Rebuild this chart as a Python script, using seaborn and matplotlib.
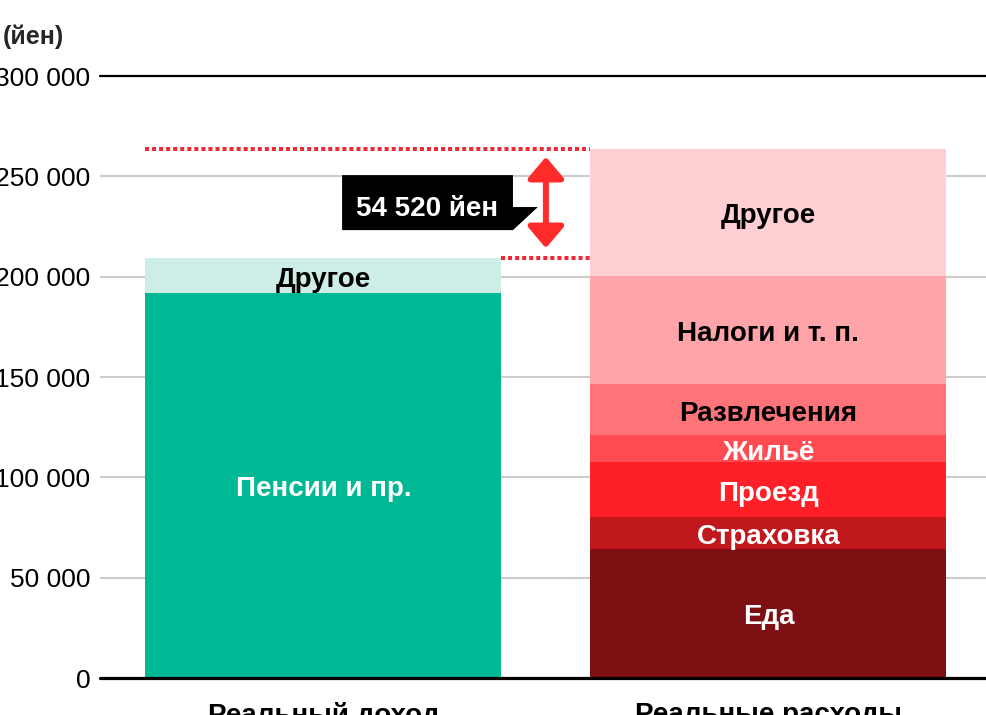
import matplotlib
matplotlib.use("Agg")
import matplotlib.pyplot as plt
from matplotlib.patches import Polygon
import pandas as pd
import seaborn as sns

bars = ["Реальный доход", "Реальные расходы"]

income_labels = ["Пенсии и пр.", "Другое"]
income_values = [191880, 17318]
income_colors = ["#00b894", "#cdeee6"]
income_text = ["white", "black"]

spend_labels = ["Еда", "Страховка", "Проезд", "Жильё", "Развлечения", "Налоги и т. п.", "Другое"]
spend_values = [64500, 15500, 27500, 13600, 25200, 54000, 63418]
spend_colors = ["#7e1013", "#c1181d", "#ff1f26", "#ff4b51", "#ff7479", "#ffa4a8", "#ffd0d3"]
spend_text = ["white", "white", "white", "white", "black", "black", "black"]

yticks = [0, 50000, 100000, 150000, 200000, 250000, 300000]

# build one table of stacked segments
rows = []
for bar, labels, values, colors, tcols in [
    (bars[0], income_labels, income_values, income_colors, income_text),
    (bars[1], spend_labels, spend_values, spend_colors, spend_text),
]:
    bottom = 0
    for lab, val, col, tc in zip(labels, values, colors, tcols):
        rows.append(dict(bar=bar, label=lab, bottom=bottom, top=bottom + val, color=col, tcolor=tc))
        bottom += val
df = pd.DataFrame(rows)

sns.set_theme(style="white")
plt.rcParams["font.family"] = ["Liberation Sans", "DejaVu Sans"]

fig = plt.figure(figsize=(9.86, 7.15), dpi=100)
ax = fig.add_axes([100 / 986, 37 / 715, 886 / 986, 602 / 715])

# stacked bars: draw tallest cumulative first, smaller ones on top
for _, r in df.sort_values("top", ascending=False).iterrows():
    sns.barplot(x=[r["bar"]], y=[r["top"]], order=bars, color=r["color"],
                saturation=1, width=0.8, linewidth=0, errorbar=None, ax=ax, zorder=2)

pos = {b: i for i, b in enumerate(bars)}
for _, r in df.iterrows():
    ax.text(pos[r["bar"]], (r["bottom"] + r["top"]) / 2 - 2000, r["label"], ha="center", va="center",
            fontsize=20, fontweight="bold", color=r["tcolor"], zorder=4)

ax.set_xlim(-0.502, 1.489)
ax.set_ylim(0, 300000)
ax.set_yticks(yticks)
ax.set_yticklabels([f"{v:,}".replace(",", " ") for v in yticks])
ax.set_xlabel("")
ax.set_ylabel("")
for s in ax.spines.values():
    s.set_visible(False)
ax.yaxis.grid(True, color="#cccccc", lw=1.5, zorder=0)
ax.set_axisbelow(True)
ax.axhline(300000, color="black", lw=1.6, zorder=1, clip_on=False)
ax.axhline(0, color="black", lw=2.3, zorder=5, clip_on=False)
ax.tick_params(axis="y", length=0, pad=7, labelsize=19, colors="black")
ax.tick_params(axis="x", length=0, pad=17, labelsize=20, colors="black")
for t in ax.get_xticklabels():
    t.set_fontweight("bold")

# gap annotation
inc_total = sum(income_values)
sp_total = sum(spend_values)
gap = sp_total - inc_total
red = "#ee2a35"
ax.plot([-0.4, 0.6], [sp_total, sp_total], color=red, lw=2.9, ls=(0, (1, 0.75)), zorder=3)
ax.plot([0.4, 0.6], [inc_total, inc_total], color=red, lw=2.9, ls=(0, (1, 0.75)), zorder=3)
ax.annotate("", xy=(0.5, sp_total - 4000), xytext=(0.5, inc_total + 5000),
            arrowprops=dict(arrowstyle="<|-|>,head_length=0.65,head_width=0.55", mutation_scale=20,
                            lw=4.3, color="#ff2a2a", shrinkA=0, shrinkB=0), zorder=4)

box = Polygon([(0.042, 250600), (0.426, 250600), (0.426, 234700), (0.482, 234700),
               (0.426, 223200), (0.042, 223200)], closed=True, fc="black", ec="none", zorder=4)
ax.add_patch(box)
ax.text(0.234, 233500, f"{gap:,} йен".replace(",", " "), ha="center", va="center",
        color="white", fontsize=20, fontweight="bold", zorder=5)

fig.text(3 / 986, 1 - 37 / 715, "(йен)", ha="left", va="center", fontsize=18, fontweight="bold")

fig.savefig("out.png", dpi=100)
